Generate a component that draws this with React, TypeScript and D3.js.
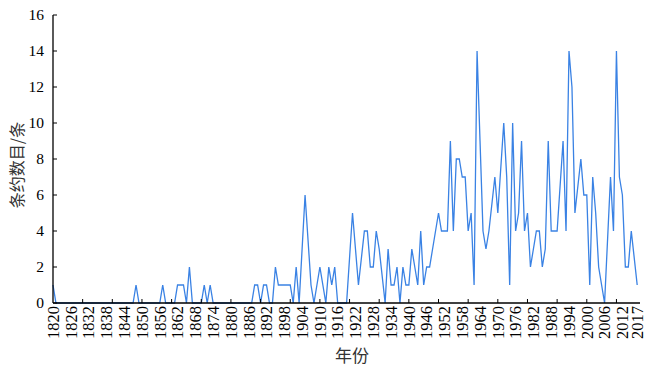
import React from "react";
import * as d3 from "d3";

// Treaty counts per year, 1820-2017 (null = no point drawn; line connects neighbours)
const startYear = 1820;
const counts: (number | null)[] = [
  // 1820-1829
  1, 0, 0, 0, 0, 0, 0, 0, 0, 0,
  // 1830-1839
  0, 0, 0, 0, 0, 0, 0, 0, 0, 0,
  // 1840-1849
  0, 0, 0, 0, 0, 0, 0, 0, 1, 0,
  // 1850-1859
  0, 0, 0, 0, 0, 0, 0, 1, 0, 0,
  // 1860-1869
  0, 0, 1, 1, 1, 0, 2, 0, 0, 0,
  // 1870-1879
  0, 1, 0, 1, 0, 0, 0, 0, 0, 0,
  // 1880-1889
  0, 0, 0, 0, 0, 0, 0, 0, 1, 1,
  // 1890-1899
  0, 1, 1, 0, 0, 2, 1, 1, 1, 1,
  // 1900-1909
  1, 0, 2, 0, 3, 6, null, 1, 0, 1,
  // 1910-1919
  2, 1, 0, 2, 1, 2, 0, 0, 0, 0,
  // 1920-1929
  null, 5, 3, 1, null, 4, 4, 2, 2, 4,
  // 1930-1939
  3, null, 0, 3, 1, 1, 2, 0, 2, 1,
  // 1940-1949
  1, 3, 2, 1, 4, 1, 2, 2, 3, 4,
  // 1950-1959
  5, 4, 4, 4, 9, 4, 8, 8, 7, 7,
  // 1960-1969
  4, 5, 1, 14, 9, 4, 3, 4, null, 7,
  // 1970-1979
  5, null, 10, 7, 1, 10, 4, 5, 9, 4,
  // 1980-1989
  5, 2, 3, 4, 4, 2, 3, 9, 4, 4,
  // 1990-1999
  4, null, 9, 4, 14, 12, 5, null, 8, 6,
  // 2000-2009
  6, 1, 7, 5, 2, 1, 0, null, 7, 4,
  // 2010-2017
  14, 7, 6, 2, 2, 4, null, 1,
];

const xTickLabels = [
  1820, 1826, 1832, 1838, 1844, 1850, 1856, 1862, 1868, 1874, 1880, 1886, 1892,
  1898, 1904, 1910, 1916, 1922, 1928, 1934, 1940, 1946, 1952, 1958, 1964, 1970,
  1976, 1982, 1988, 1994, 2000, 2006, 2012, 2017,
];
const xTickMarks = [1830, 1840, 1850, 1860, 1870, 1880, 1890, 1900, 1910, 1920, 1930, 1940, 1950, 1960, 1970, 1980, 1990, 2000, 2010];
const yTicks = [0, 2, 4, 6, 8, 10, 12, 14, 16];
const yTitle = "条约数目/条";
const xTitle = "年份";

const W = 650;
const H = 369;

export default function App() {
  const x = d3.scaleLinear().domain([1820, 2017]).range([53, 637.2]);
  const y = d3.scaleLinear().domain([0, 16]).range([303, 15]);

  const points = counts
    .map((v, i) => ({ year: startYear + i, v }))
    .filter((d) => d.v !== null) as { year: number; v: number }[];

  const line = d3
    .line<{ year: number; v: number }>()
    .x((d) => x(d.year))
    .y((d) => y(d.v));

  const serif = "'Liberation Serif', 'Times New Roman', serif";
  const cjk = "'Noto Sans CJK SC', sans-serif";

  return (
    <svg
      width={W}
      height={H}
      style={{ position: "absolute", left: 0, top: 0, background: "#fff" }}
    >
      <rect x={0} y={0} width={W} height={H} fill="#fff" />
      {/* data line */}
      <path d={line(points) || ""} fill="none" stroke="#3a82e4" strokeWidth={1.3} strokeLinejoin="miter" />

      {/* axes */}
      <line x1={x(1820)} x2={x(1820)} y1={y(16)} y2={y(0)} stroke="#000" strokeWidth={1.3} />
      <line x1={x(1820)} x2={640} y1={y(0)} y2={y(0)} stroke="#000" strokeWidth={1.3} />

      {yTicks.map((t) => (
        <g key={"y" + t}>
          <line x1={x(1820)} x2={x(1820) + 4} y1={y(t)} y2={y(t)} stroke="#000" strokeWidth={1} />
          <text
            x={44}
            y={y(t)}
            dy="0.35em"
            textAnchor="end"
            fontFamily={serif}
            fontSize={15.5}
            fill="#000"
          >
            {t}
          </text>
        </g>
      ))}

      {xTickMarks.map((t) => (
        <line key={"xm" + t} x1={x(t)} x2={x(t)} y1={y(0)} y2={y(0) - 4} stroke="#000" strokeWidth={1} />
      ))}

      {xTickLabels.map((t) => (
        <text
          key={"xl" + t}
          transform={`translate(${x(t)},${306}) rotate(-90)`}
          dy="0.35em"
          textAnchor="end"
          fontFamily={serif}
          fontSize={16.5}
          fill="#000"
        >
          {t}
        </text>
      ))}

      <text
        transform={`translate(17,165) rotate(-90)`}
        dy="0.35em"
        textAnchor="middle"
        fontFamily={cjk}
        fontSize={16}
        fill="#333"
      >
        {yTitle}
      </text>
      <text x={352} y={362} textAnchor="middle" fontFamily={cjk} fontSize={17} fill="#333">
        {xTitle}
      </text>
    </svg>
  );
}
